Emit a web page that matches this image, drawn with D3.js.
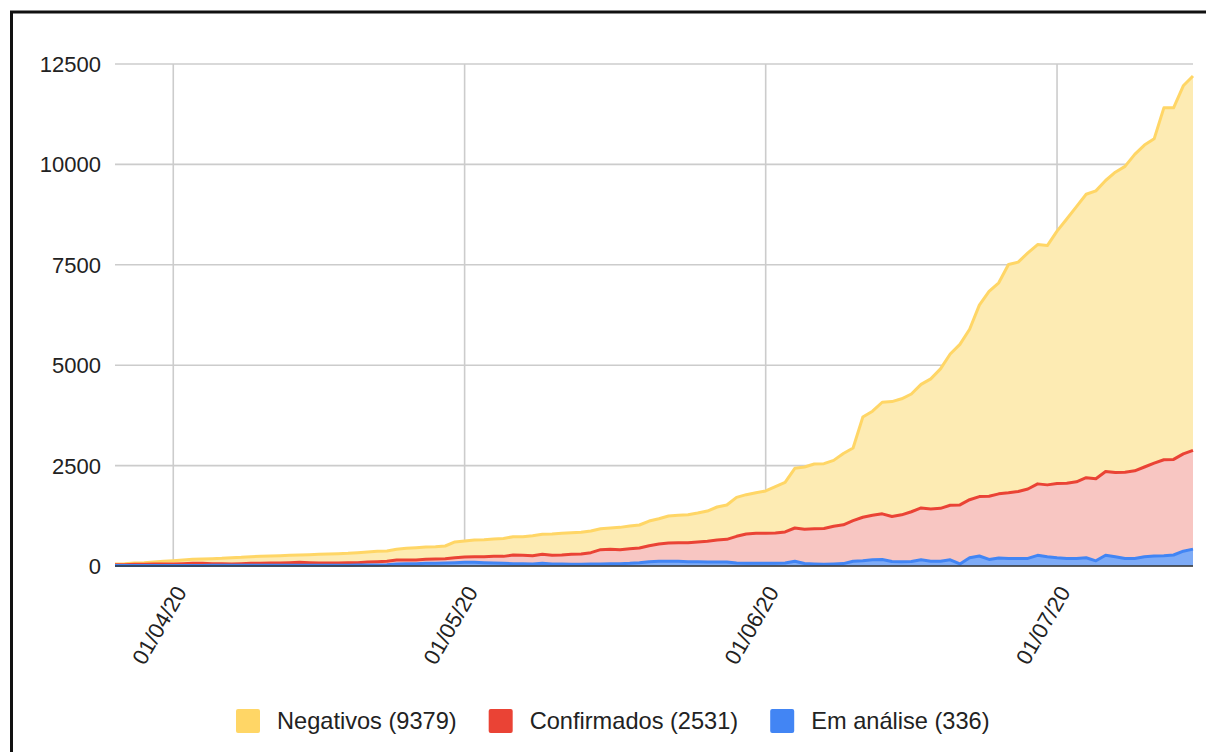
<!DOCTYPE html>
<html>
<head>
<meta charset="utf-8">
<script src="https://cdn.jsdelivr.net/npm/d3@7"></script>
<style>
  body { margin: 0; background: #fff; }
  text { font-family: "Liberation Sans", Arial, sans-serif; fill: #222; }
</style>
</head>
<body>
<svg id="main" width="1206" height="752"></svg>
<script>
// daily values, 26/03/20 .. 15/07/20
var negativos = [17,25,33,41,50,66,83,91,100,108,
  125,133,158,158,166,175,174,182,183,183,
  199,216,224,232,232,249,249,257,258,266,
  291,308,307,307,315,390,399,415,424,431,
  445,456,464,498,498,531,539,540,539,539,
  522,531,555,565,573,614,630,672,680,697,
  721,755,822,855,971,979,1013,1055,1153,1236,
  1486,1550,1610,1613,1639,1775,1809,2495,2589,2778,
  2863,2889,2932,3078,3241,3473,3764,3996,4244,4767,
  5101,5255,5685,5710,5881,5959,5958,6284,6577,6850,
  7056,7167,7245,7477,7614,7879,8017,8076,8763,8754,
  9166,9320];
var confirmados = [23,23,32,32,38,38,38,46,52,52,
  42,42,34,42,49,49,58,58,65,73,
  65,57,57,55,63,61,75,83,86,99,
  91,91,100,108,108,125,133,141,149,166,
  174,216,208,207,224,216,224,248,257,282,
  357,357,349,365,365,398,432,457,465,473,
  490,514,547,564,664,731,747,747,756,772,
  830,851,879,892,940,965,1008,1084,1111,1136,
  1120,1171,1240,1291,1299,1316,1360,1471,1445,1479,
  1574,1600,1633,1668,1728,1779,1789,1848,1873,1908,
  1994,2045,2088,2097,2148,2182,2234,2311,2388,2380,
  2422,2460];
var emAnalise = [10,10,10,10,12,12,12,12,14,14,
  16,16,16,16,17,17,17,17,18,18,
  18,18,18,20,20,22,25,25,30,50,
  58,58,66,66,75,83,91,91,83,75,
  66,58,58,50,66,50,50,42,42,50,
  50,58,58,66,83,108,116,116,116,108,
  108,100,100,100,75,66,66,66,66,75,
  116,64,51,43,51,60,120,129,154,163,
  111,103,111,154,120,120,154,51,206,249,
  163,197,189,189,189,266,231,206,189,189,
  206,129,266,231,189,189,231,249,257,274,
  369,420];
var yTicks = [0, 2500, 5000, 7500, 10000, 12500];
var series = [
  {key: "emAnalise", label: "Em análise (336)", line: "#4285F4", fill: "#7eabf6"},
  {key: "confirmados", label: "Confirmados (2531)", line: "#EA4335", fill: "#f8c6c2"},
  {key: "negativos", label: "Negativos (9379)", line: "#FFD666", fill: "#fdebb3"}
];
var legendOrder = ["negativos", "confirmados", "emAnalise"];

var dates = d3.timeDay.range(new Date(2020, 2, 26), new Date(2020, 6, 16));
var rows = dates.map(function(d, i) {
  return {date: d, negativos: negativos[i], confirmados: confirmados[i], emAnalise: emAnalise[i]};
});

var svg = d3.select("#main");
svg.append("rect").attr("width", 1206).attr("height", 752).attr("fill", "#fff");
// frame of the screenshot
svg.append("rect").attr("x", 11.5).attr("y", 12).attr("width", 1300).attr("height", 900)
  .attr("fill", "none").attr("stroke", "#111").attr("stroke-width", 3);

var x = d3.scaleTime().domain([dates[0], dates[dates.length - 1]]).range([115, 1193]);
var y = d3.scaleLinear().domain([0, 12500]).range([566, 64]);

var grid = svg.append("g");
grid.selectAll(".hg").data(yTicks).enter().append("line")
  .attr("x1", 115).attr("x2", 1193)
  .attr("y1", function(d) { return y(d); }).attr("y2", function(d) { return y(d); })
  .attr("stroke", "#cccccc").attr("stroke-width", 1.6);
var xTicks = x.ticks(d3.timeMonth.every(1)).filter(function(d) { return d > dates[0]; });
grid.selectAll(".vg").data(xTicks).enter().append("line")
  .attr("x1", function(d) { return x(d); }).attr("x2", function(d) { return x(d); })
  .attr("y1", 64).attr("y2", 566)
  .attr("stroke", "#cccccc").attr("stroke-width", 1.6);

var stack = d3.stack().keys(series.map(function(s) { return s.key; }));
var layers = stack(rows);

var area = d3.area()
  .x(function(d) { return x(d.data.date); })
  .y0(function(d) { return y(d[0]); })
  .y1(function(d) { return y(d[1]); });
var line = d3.line()
  .x(function(d) { return x(d.data.date); })
  .y(function(d) { return y(d[1]); });

svg.append("g").selectAll("path").data(layers).enter().append("path")
  .attr("d", area)
  .attr("fill", function(d, i) { return series[i].fill; });

var lineG = svg.append("g");
[2, 1, 0].forEach(function(i) {
  lineG.append("path").datum(layers[i]).attr("d", line)
    .attr("fill", "none").attr("stroke", series[i].line)
    .attr("stroke-width", 3).attr("stroke-linejoin", "round");
});

// baseline
svg.append("line").attr("x1", 115).attr("x2", 1193).attr("y1", y(0)).attr("y2", y(0))
  .attr("stroke", "#333").attr("stroke-width", 1.5);

// y labels
svg.append("g").selectAll("text").data(yTicks).enter().append("text")
  .attr("x", 101).attr("y", function(d) { return y(d); }).attr("dy", "0.36em")
  .attr("text-anchor", "end").style("font-size", "22px")
  .text(function(d) { return d; });

// x labels, rotated
var fmt = d3.timeFormat("%d/%m/%y");
svg.append("g").selectAll("text").data(xTicks).enter().append("text")
  .attr("transform", function(d) { return "translate(" + (x(d) + 14) + ",592) rotate(-60)"; })
  .attr("text-anchor", "end").style("font-size", "22px")
  .text(function(d) { return fmt(d); });

// legend
var leg = svg.append("g");
var lx = 236;
legendOrder.forEach(function(k) {
  var s = series.find(function(t) { return t.key === k; });
  leg.append("rect").attr("x", lx).attr("y", 709).attr("width", 24).attr("height", 24)
    .attr("rx", 2).attr("fill", s.line);
  var t = leg.append("text").attr("x", lx + 41).attr("y", 721).attr("dy", "0.36em")
    .style("font-size", "23.6px").text(s.label);
  lx = lx + 41 + t.node().getComputedTextLength() + 32;
});
</script>
</body>
</html>
